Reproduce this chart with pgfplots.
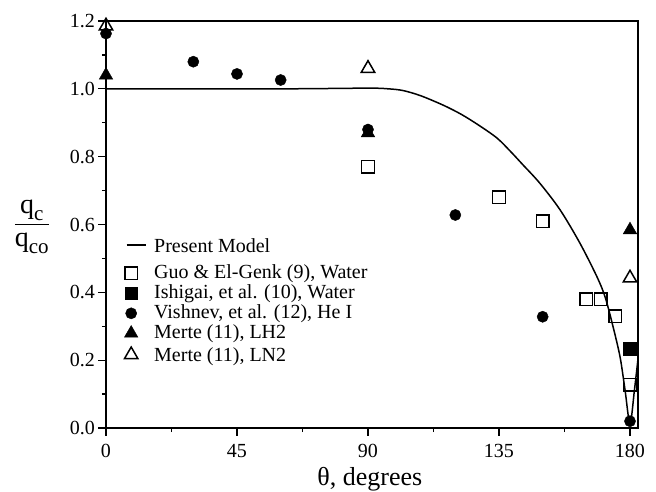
\documentclass[border=0pt]{standalone}
\usepackage{fontspec}
\setmainfont{Liberation Serif}
\usepackage{pgfplots}
\pgfplotsset{compat=1.18}
\newcommand\ls{\rule[-4.5bp]{0pt}{18.5bp}}
\begin{document}
\begin{tikzpicture}
\useasboundingbox (-106bp,-64bp) rectangle (550bp,428bp);
\begin{axis}[
  width=532bp, height=407bp, scale only axis,
  xmin=0, xmax=182.75, ymin=0, ymax=1.2,
  xtick={0,45,90,135,180}, minor xtick={22.5,67.5,112.5,157.5},
  ytick={0,0.2,0.4,0.6,0.8,1.0,1.2}, minor ytick={0.1,0.3,0.5,0.7,0.9,1.1},
  yticklabel style={/pgf/number format/.cd, fixed, fixed zerofill, precision=1},
  xticklabel style={yshift=-5bp},
  /pgf/number format/assume math mode=true,
  tick pos=left, tick align=outside,
  major tick length=7.5bp, minor tick length=4bp,
  axis line style={line width=1.4bp},
  every tick/.style={line width=1.2bp, black},
  every tick label/.append style={font=\fontsize{20bp}{22bp}\selectfont},
  clip=false,
  xlabel={θ, degrees},
  xlabel style={font=\fontsize{26bp}{28bp}\selectfont, at={(axis description cs:0.496,0)}, anchor=base, yshift=-57bp},
  legend style={at={(axis description cs:0.0183,0.469)}, anchor=north west, draw=none, fill=none,
    font=\fontsize{20bp}{22bp}\selectfont, row sep=0bp, inner sep=0pt,
    nodes={inner sep=0.75bp, text depth=},
    /tikz/every odd column/.append style={column sep=7bp}},
  legend cell align=left,
]
\addplot[black, line width=1.5bp, smooth, tension=0.5,
  legend image code/.code={\path (-6bp,5.5bp); \draw[black, line width=1.5bp] (4bp,5.5bp) -- (23bp,5.5bp);}] coordinates {
 (0,1.0) (60,1.0) (90,1.002) (97,1.0) (102,0.995) (108,0.98) (115.8,0.952) (122,0.925) (128,0.893)
 (134.3,0.855) (139,0.815) (143,0.778) (149,0.722) (156,0.643) (162.8,0.545) (168.7,0.445)
 (171.5,0.385) (174.2,0.298) (176.6,0.209) (178.3,0.112) (180,0.012)
 (181.5,0.11) (182.7,0.20)};
\addlegendentry{Present Model\rule[-10.5bp]{0pt}{24.5bp}}
\addplot[only marks, mark=square, mark size=6.3bp, line width=1.5bp, black, mark options={fill=white}] coordinates {
 (90,0.77) (135,0.68) (150,0.61) (165,0.38) (170,0.38) (175,0.33) (180,0.127)};
\addlegendentry{Guo \& El-Genk (9), Water\ls}
\addplot[only marks, mark=square*, mark size=6.3bp, black] coordinates {(180,0.233)};
\addlegendentry{Ishigai, et al. (10), Water\ls}
\addplot[only marks, mark=*, mark size=5.6bp, black] coordinates {
 (0,1.163) (30,1.08) (45,1.044) (60,1.026) (90,0.88) (120,0.628) (150,0.328) (180,0.02)};
\addlegendentry{Vishnev, et al. (12), He I\ls}
\addplot[only marks, mark=triangle*, mark size=7.8bp, black] coordinates {
 (0,1.04) (90,0.87) (180,0.584)};
\addlegendentry{Merte (11), LH2\ls}
\addplot[only marks, mark=triangle, mark size=7.8bp, line width=1.5bp, black, mark options={fill=white}] coordinates {
 (0,1.185) (90,1.06) (180,0.442)};
\addlegendentry{Merte (11), LN2\rule[-4.5bp]{0pt}{21.5bp}}
\node at (axis description cs:-0.139,0.494) {\fontsize{28bp}{32bp}\selectfont$\displaystyle\frac{\mbox{q}_{\mbox{\fontsize{21bp}{23bp}\selectfont c}}}{\mbox{q}_{\mbox{\fontsize{21bp}{23bp}\selectfont co}}}$};
\end{axis}
\end{tikzpicture}
\end{document}
